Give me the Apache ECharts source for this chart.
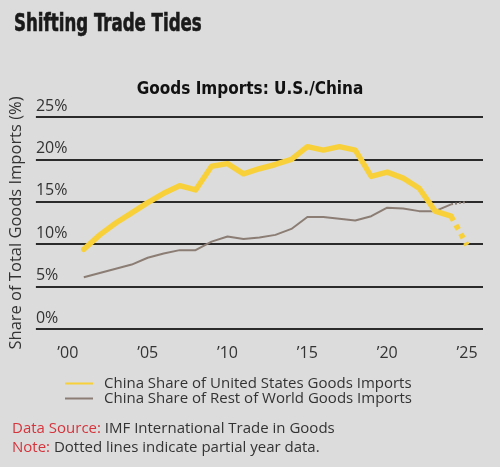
<!DOCTYPE html>
<html>
<head>
<meta charset="utf-8">
<title>Shifting Trade Tides</title>
<script src="https://cdn.jsdelivr.net/npm/echarts@6/dist/echarts.min.js"></script>
<style>
	html,body{margin:0;padding:0;background:#dcdcdc;}
	#chart{width:500px;height:467px;}
</style>
</head>
<body>
<div id="chart"></div>
<script>
// years and shares (%)
var years = [2001,2002,2003,2004,2005,2006,2007,2008,2009,2010,2011,2012,2013,2014,2015,2016,2017,2018,2019,2020,2021,2022,2023,2024,2025];
var usShare = [9.4,11.1,12.5,13.7,14.9,16.0,16.9,16.4,19.2,19.5,18.3,18.9,19.4,20.0,21.5,21.1,21.5,21.1,18.0,18.5,17.8,16.6,13.9,13.3,9.9];
var rowShare = [6.1,6.6,7.1,7.6,8.4,8.9,9.3,9.3,10.3,10.9,10.6,10.8,11.1,11.8,13.2,13.2,13.0,12.8,13.3,14.3,14.2,13.9,13.9,14.7,15.0];
var partialFrom = 2024; // last year is partial -> dotted
var seriesNames = ['China Share of United States Goods Imports','China Share of Rest of World Goods Imports'];
var yTicks = [0,5,10,15,20,25];

var usColor = '#f8d13a';
var rowColor = '#8b7d74';
var textFont = 'Open Sans';

function pairs(vals, partial){
	var out = [];
	for(var i=0;i<years.length;i++){
		if(partial ? years[i]>=partialFrom : years[i]<=partialFrom){
			out.push([years[i], vals[i]]);
		}
	}
	return out;
}

var myChart = echarts.init(document.getElementById('chart'));
var option = {
	backgroundColor:'#dcdcdc',
	animation:false,
	textStyle:{fontFamily:textFont},
	title:{
		text:'Goods Imports: U.S./China',
		left:'center', top:76,
		textStyle:{fontFamily:'DejaVu Sans Condensed',fontWeight:'bold',fontSize:17,color:'#111'}
	},
	grid:{left:35,right:17,top:117,bottom:138},
	legend:{
		orient:'vertical',
		left:60, top:371,
		data:seriesNames,
		icon:'rect',
		itemWidth:28, itemHeight:2, itemGap:0,
		textStyle:{fontFamily:textFont,fontSize:15,color:'#333',lineHeight:14,padding:[0,0,0,6]}
	},
	xAxis:{
		type:'value',
		min:1998, max:2026, interval:1,
		axisLine:{show:false},
		axisTick:{show:false},
		splitLine:{show:false},
		axisLabel:{
			fontSize:16, color:'#333', margin:16,
			showMinLabel:true, showMaxLabel:true,
			formatter:function(v){
				if(v%5!==0) return '';
				return '\u2019'+String(v).slice(2);
			}
		}
	},
	yAxis:{
		type:'value',
		min:yTicks[0], max:yTicks[yTicks.length-1], interval:5,
		name:'Share of Total Goods Imports (%)',
		nameLocation:'middle', nameGap:5, nameRotate:90,
		nameTextStyle:{fontFamily:textFont,fontSize:16.5,color:'#333'},
		axisLine:{show:false},
		axisTick:{show:false},
		axisLabel:{
			inside:true, margin:0,
			verticalAlign:'bottom', align:'left',
			padding:[0,0,3,0],
			fontSize:16, color:'#333',
			formatter:'{value}%'
		},
		splitLine:{lineStyle:{color:'#2b2b2b',width:2}}
	},
	series:[
		{
			name:seriesNames[1], type:'line', data:pairs(rowShare,false),
			showSymbol:false, z:2,
			lineStyle:{color:rowColor,width:2}, itemStyle:{color:rowColor}
		},
		{
			name:seriesNames[1]+' (partial)', type:'line', data:pairs(rowShare,true),
			showSymbol:false, z:2,
			lineStyle:{color:rowColor,width:2,type:[2,2]}
		},
		{
			name:seriesNames[0], type:'line', data:pairs(usShare,false),
			showSymbol:false, z:3,
			lineStyle:{color:usColor,width:5.5,join:'round',cap:'round'}, itemStyle:{color:usColor}
		},
		{
			name:seriesNames[0]+' (partial)', type:'line', data:pairs(usShare,true),
			showSymbol:false, z:3,
			lineStyle:{color:usColor,width:5.5,type:[5,5]}
		}
	],
	graphic:[
		// headline, squeezed to look like a condensed face
		{
			type:'text', x:14, y:13, scaleX:0.77,
			style:{
				text:'Shifting Trade Tides',
				font:'bold 24px "DejaVu Sans Condensed"',
				fill:'#1a1a1a', stroke:'#1a1a1a', lineWidth:0.6
			}
		},
		{
			type:'text', left:12, top:421,
			style:{
				text:'{r|Data Source:} IMF International Trade in Goods',
				fontFamily:textFont, fontSize:15, fill:'#333',
				rich:{r:{fill:'#d6343c',fontFamily:textFont,fontSize:15}}
			}
		},
		{
			type:'text', left:12, top:440,
			style:{
				text:'{r|Note:} Dotted lines indicate partial year data.',
				fontFamily:textFont, fontSize:15, fill:'#333',
				rich:{r:{fill:'#d6343c',fontFamily:textFont,fontSize:15}}
			}
		}
	]
};
myChart.setOption(option);
</script>
</body>
</html>
